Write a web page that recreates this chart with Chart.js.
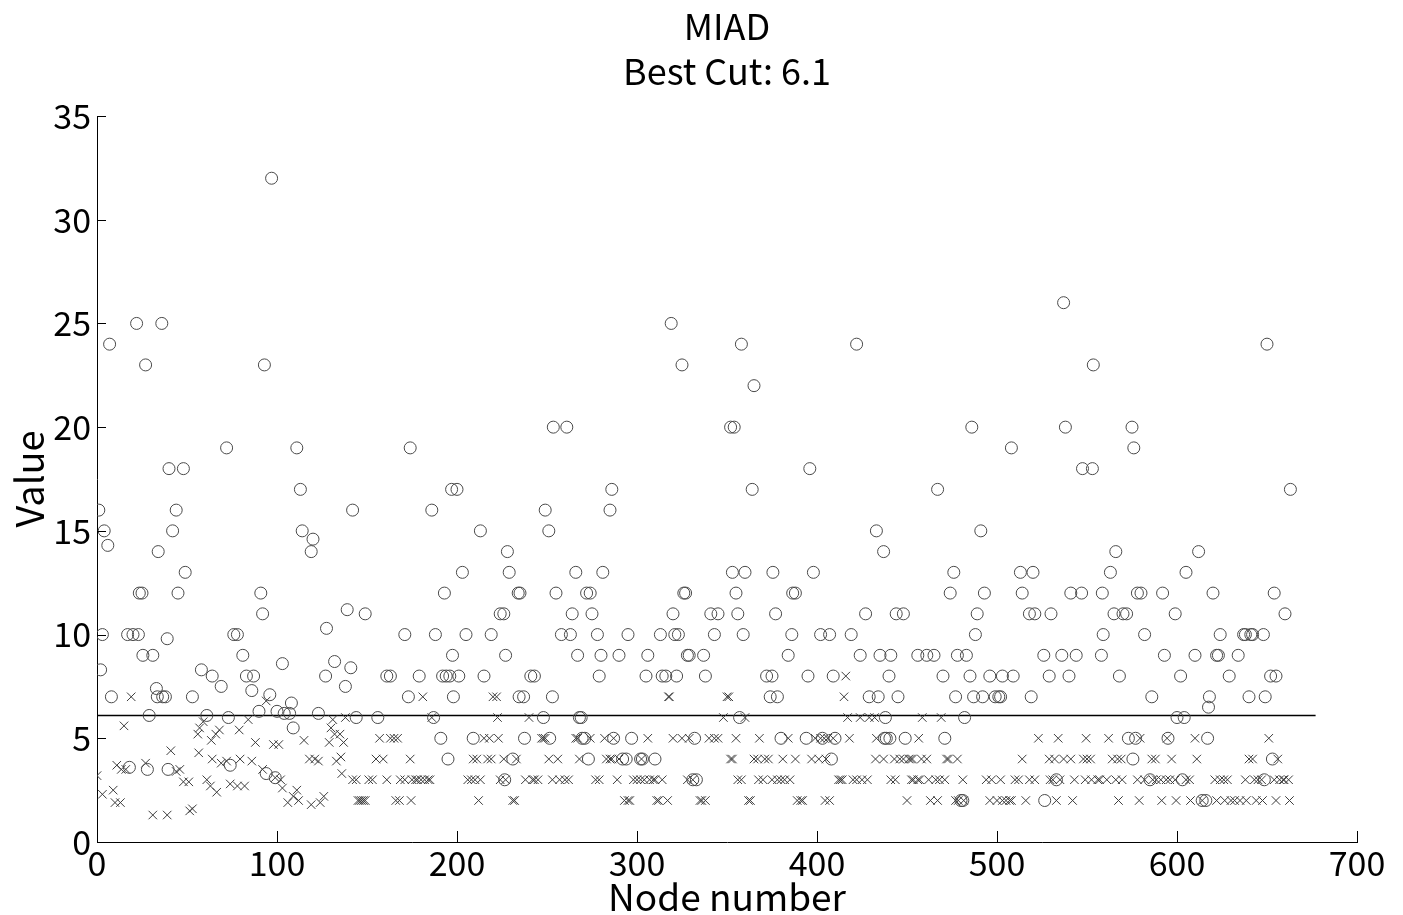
<!DOCTYPE html>
<html>
<head>
<meta charset="utf-8">
<script src="https://cdn.jsdelivr.net/npm/chart.js@4.4.1/dist/chart.umd.min.js"></script>
<style>
  html, body { margin: 0; padding: 0; background: #fff; }
  #wrap { width: 1403px; height: 915px; }
</style>
</head>
<body>
<div id="wrap"><canvas id="miad"></canvas></div>
<script>
const xTicks = [0, 100, 200, 300, 400, 500, 600, 700];
const yTicks = [0, 5, 10, 15, 20, 25, 30, 35];
const bestCut = 6.1;
const cutRange = [0, 677];

// circles (node, value)
const circleNode = [1,2,3,4,6,7,8,18,17,20,22,23,23.5,25,25.5,27,28,29,31,33,33.5,34,36,36.5,38,39,39.5,40,42,44,45,48,49,53,58,61,64,69,72,73,74,76,78,81,83,86,87,90,91,92,93,94,96,97,99,100,103,104,107,108,109,111,113,114,119,120,123,127,127.5,132,138,139,141,142,144,149,156,161,163,171,173,174,179,186,187,188,191,192,193,194,195,196,197,197.5,198,200,201,203,205,209,213,215,219,224,226,226.5,227,228,229,231,234,235,234.5,237,237.5,241,243,248,249,251,251.5,253,253.5,255,258,261,263,264,266,267,268,269,269.5,271,272,274,273,275,278,279,280,281,285,286,287,290,292,294,295,297,302,303,305,306,310,313,314,316,319,320,321,323,322,325,326,327,328,329,331,332,333,337,338,341,343,345,352,354,353,355,356,357,358,359,360,364,365,372,374,375,375.5,377,378,380,384,386,386.5,388,394,395,396,398,402,403,407,408,409,410,419,422,424,427,429,433,434,435,437,437.5,438,438.5,440,440.5,441,444,445,448,449,456,461,465,467,470,471,474,476,477,478,480,481,482,483,485,486,487,488,489,491,492,493,496,499,501,502,503,508,509,513,514,518,519,520,521,526,526.5,529,530,533,536,537,538,540,541,544,547,547.5,553,553.5,558,558.5,559,563,565,566,568,570,572,573,575,576,575.5,577,578,580,582,586,585,592,593,595,599,600,602,604,605,603,610,612,614,616,617,617.5,618,620,622,623,624,629,634,637,638,640,641,642,648,648.5,649,650,652,653,654,655,660,663];
const circleValue = [16,8.3,10,15,14.3,24,7,3.6,10,10,25,10,12,12,9,23,3.5,6.1,9,7.4,7,14,25,7,7,9.8,3.5,18,15,16,12,18,13,7,8.3,6.1,8,7.5,19,6,3.7,10,10,9,8,7.3,8,6.3,12,11,23,3.3,7.1,32,3.1,6.3,8.6,6.2,6.2,6.7,5.5,19,17,15,14,14.6,6.2,8,10.3,8.7,7.5,11.2,8.4,16,6,11,6,8,8,10,7,19,8,16,6,10,5,8,12,8,4,8,17,9,7,17,8,13,10,5,15,8,10,11,11,3,9,14,13,4,12,12,7,7,5,8,8,6,16,15,5,7,20,12,10,20,10,11,13,9,6,6,5,5,12,12,4,11,10,8,9,13,16,17,5,9,4,4,10,5,4,4,8,9,4,10,8,8,25,11,10,10,8,23,12,12,9,9,3,5,3,9,8,11,10,11,20,20,13,12,11,6,24,10,13,17,22,8,7,8,13,11,7,5,9,10,12,12,5,8,18,13,10,5,10,4,8,5,10,24,9,11,7,15,7,9,14,5,6,5,8,5,9,11,7,11,5,9,9,9,17,8,5,12,13,7,9,2,2,6,9,8,20,7,10,11,15,7,12,8,7,7,7,8,19,8,13,12,11,7,13,11,9,2,8,11,3,9,26,20,8,12,9,12,18,18,23,9,12,10,13,11,14,8,11,11,5,20,19,4,5,12,12,10,7,3,12,9,5,11,6,8,6,13,3,9,14,2,2,5,6.5,7,12,9,9,10,8,9,10,10,7,10,10,10,3,7,24,8,4,12,8,11,17];

// crosses (node, value)
const crossNode = [0,3,9,10,13,11,13.5,15,16,19,27,31,39,41,44,46,48,51,51.5,53,56,56.5,57,59,61,63,63.5,64,66,66.5,68,69,72,74,78,79,79.5,82,84,86,88,92,94,98,99,101,102,103,106,109,111,112,115,118,119,121,123,124,126,129,130,131,132,133,135,135.5,136,137,138,142,144,145,146,147,148,149,151,153,155,157,159,161,163,165,166,167,168,168.5,171,174,174.5,175,177,178,180,181,182,184,185,186,206,208,210,209,211,212,213,215,217,218,219,220,222,222.5,223,224,226,227,231,232,233,238,240,242,243,245,247,248,249,251,253,256,257,260,262,266,267,268,274,277,279,282,283,285,286,287,289,290,293,295,296,298,300,302,302.5,304,306,307,309,310,311,312,314,317,317.5,318,320,325,328,329,331,335,336,338,340,343,345,348,350,351,352,353,355,356,358,360,362,363,365,367,367.5,368,370,371,373,375,378,380,381,382,384,385,388,389,391,392,397,399,401,402,404,404.5,405,406,407,409,412,413,414,415,416,417,418,420,422,424,425,428,429,432,432.5,433,437,443,446,448,452,453,461,473,478,451,458,472,514,529,532,537,541,548,550,552,564,567,569,586,588,597,611,640,642,656,659,441,443.5,452.5,453.5,456,457,462,466,468,471,481,494,497,502,510,512,518,521,529.5,531,535,543,549,552.5,556,557,561,566,569.5,578,582,586.5,588.5,591,594,596,599,605,607,621,624,626,628,638,643,645,647,654,657,659.5,662,450,463,467,477,478.5,481.5,496,500,503,505,507,508,516,533,542,567.5,579,591.5,599.5,607.5,614,622,626.5,630,632,635,638.5,644,647.5,655,662.5,456.5,523,534,549.5,562,579.5,594.5,610,651,458.5,469];
const crossValue = [3.2,2.3,2.5,1.9,1.9,3.7,3.5,5.6,3.5,7,3.8,1.3,1.3,4.4,3.4,3.5,2.9,2.9,1.5,1.6,5.2,4.3,5.5,5.8,3,2.7,4.9,4,5.2,2.4,5.4,3.8,3.9,2.8,2.7,5.4,4,2.7,5.9,3.9,4.8,3.5,6.8,4.7,3.1,4.7,3,2.6,1.9,2.2,2.5,2,4.9,4,1.8,4,3.9,1.9,2.2,4.8,5.5,5.9,5.2,3.9,5.2,4.1,3.3,4.8,6,3,3,2,2,2,2,2,3,3,4,5,4,3,5,5,2,5,2,3,3,4,2,3,3,3,3,7,3,3,3,6,3,3,3,4,4,2,3,5,4,5,4,7,7,6,5,3,4,3,2,2,4,3,6,3,3,3,5,5,5,4,3,4,3,3,3,5,5,4,5,3,3,5,4,4,4,5,3,4,2,2,2,3,3,3,4,3,5,3,3,3,2,2,3,2,7,7,5,5,3,5,3,2,2,2,5,5,5,6,7,7,4,4,5,3,3,6,2,2,4,4,3,5,3,4,4,3,3,3,4,3,5,3,4,2,2,2,4,5,4,5,5,2,4,5,2,5,3,3,3,7,8,6,5,3,3,6,3,3,6,6,4,5,4,4,4,4,4,4,4,4,4,4,4,4,4,4,4,4,4,4,4,4,4,4,4,4,4,4,4,4,4,4,3,3,3,3,3,3,3,3,3,3,3,3,3,3,3,3,3,3,3,3,3,3,3,3,3,3,3,3,3,3,3,3,3,3,3,3,3,3,3,3,3,3,3,3,3,3,3,3,3,3,3,3,2,2,2,2,2,2,2,2,2,2,2,2,2,2,2,2,2,2,2,2,2,2,2,2,2,2,2,2,2,2,2,5,5,5,5,5,5,5,5,5,6,6];

const FONT = '"Noto Sans CJK TC", "Noto Sans", sans-serif';

const toPoints = (xs, ys) => xs.map((x, i) => ({ x: x, y: ys[i] }));

// inward tick marks + two line title, drawn against the chart area
const decor = {
    id: 'decor',
    afterDatasetsDraw(chart) {
        const { ctx, chartArea, scales } = chart;
        ctx.save();
        ctx.strokeStyle = '#000';
        ctx.lineWidth = 1;
        ctx.beginPath();
        yTicks.forEach(v => {
            const y = Math.round(scales.y.getPixelForValue(v)) + 0.5;
            ctx.moveTo(chartArea.left, y);
            ctx.lineTo(chartArea.left + 9, y);
        });
        xTicks.forEach(v => {
            const x = Math.round(scales.x.getPixelForValue(v)) + 0.5;
            ctx.moveTo(x, chartArea.bottom);
            ctx.lineTo(x, chartArea.bottom - 11);
        });
        ctx.stroke();

        const cx = (chartArea.left + chartArea.right) / 2;
        ctx.fillStyle = '#000';
        ctx.font = '36px ' + FONT;
        ctx.textAlign = 'center';
        ctx.textBaseline = 'middle';
        ctx.fillText('MIAD', cx, 26);
        ctx.fillText('Best Cut: ' + bestCut, cx, 71);
        ctx.restore();
    }
};

new Chart(document.getElementById('miad'), {
    type: 'scatter',
    data: {
        datasets: [
            {
                label: 'circles',
                data: toPoints(circleNode, circleValue),
                pointStyle: 'circle',
                pointRadius: 6,
                pointBorderWidth: 1,
                borderColor: '#4a4a4a',
                backgroundColor: 'rgba(0,0,0,0)'
            },
            {
                label: 'crosses',
                data: toPoints(crossNode, crossValue),
                pointStyle: 'crossRot',
                pointRadius: 6,
                pointBorderWidth: 1,
                borderColor: '#3c3c3c',
                backgroundColor: '#3c3c3c'
            },
            {
                type: 'line',
                label: 'cut',
                data: cutRange.map(x => ({ x: x, y: bestCut })),
                borderColor: '#000',
                borderWidth: 1.5,
                pointRadius: 0,
                fill: false
            }
        ]
    },
    options: {
        responsive: true,
        maintainAspectRatio: false,
        animation: false,
        layout: { padding: { top: 116, right: 46, bottom: 0, left: 0 } },
        plugins: {
            legend: { display: false },
            tooltip: { enabled: false }
        },
        scales: {
            x: {
                type: 'linear',
                min: 0,
                max: 700,
                afterBuildTicks: s => { s.ticks = xTicks.map(v => ({ value: v })); },
                afterFit: s => { s.height = 73; },
                grid: { display: false, drawTicks: false },
                border: { display: true, color: '#000', width: 1 },
                ticks: { color: '#000', padding: 4, font: { family: FONT, size: 34, lineHeight: 1 } },
                title: {
                    display: true,
                    text: 'Node number',
                    color: '#000',
                    font: { family: FONT, size: 37, lineHeight: 1 },
                    padding: { top: 0, bottom: 0 }
                }
            },
            y: {
                type: 'linear',
                min: 0,
                max: 35,
                afterBuildTicks: s => { s.ticks = yTicks.map(v => ({ value: v })); },
                afterFit: s => { s.width = 97; },
                grid: { display: false, drawTicks: false },
                border: { display: true, color: '#000', width: 1 },
                ticks: { color: '#000', padding: 6, font: { family: FONT, size: 34, lineHeight: 1 } },
                title: {
                    display: true,
                    text: 'Value',
                    color: '#000',
                    font: { family: FONT, size: 38, lineHeight: 1 },
                    padding: { top: 11, bottom: 0 }
                }
            }
        }
    },
    plugins: [decor]
});
</script>
</body>
</html>
